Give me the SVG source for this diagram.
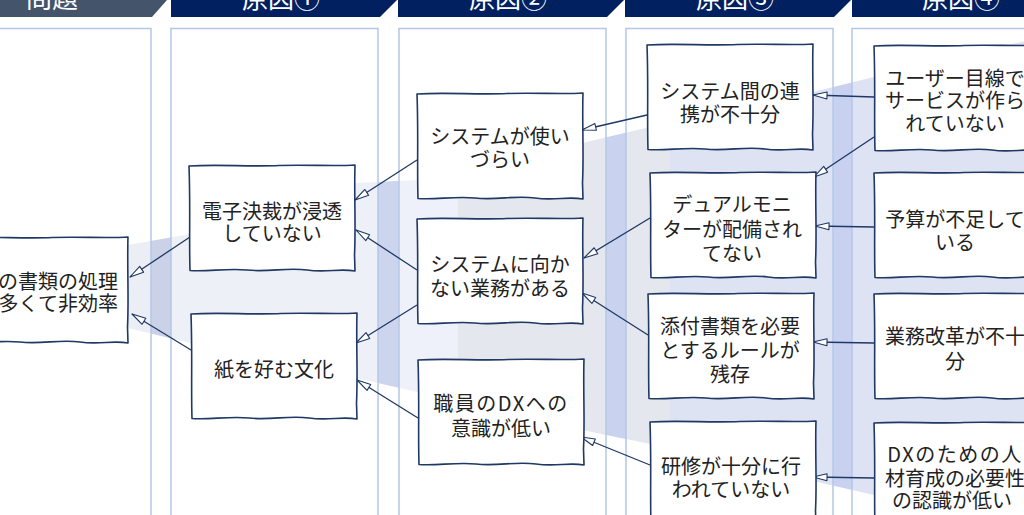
<svg xmlns="http://www.w3.org/2000/svg" width="1024" height="515" viewBox="0 0 1024 515">
<defs>
<style>
.panel{fill:none;stroke:#b4c7e7;stroke-width:1.5}
.hdr{fill:#002060}
.hdr0{fill:#44546a}
.ht{font-family:"Noto Sans CJK JP","Noto Sans",sans-serif;font-size:26px;fill:#fff;text-anchor:middle}
.box{fill:#fff;stroke:#1f3864;stroke-width:1.6;stroke-linejoin:round}
.t{font-family:"Noto Sans CJK JP","Noto Sans",sans-serif;font-size:20px;fill:#222;text-anchor:middle;dominant-baseline:central}
.dx{letter-spacing:1.5px}
.c{fill:none;stroke:#1f3864;stroke-width:1.3;marker-end:url(#arr)}
</style>
<clipPath id="sil"><polygon points="100,245 128,245 190,234 356,183 417,180 582,143 650,127 813,92 874,77 1030,40 1030,530 874,495 813,481 650,444 582,430 417,392 356,378 190,343 128,328 100,328"/></clipPath>
<marker id="arr" viewBox="-1 -1 16 10" refX="14" refY="4" markerWidth="16" markerHeight="10" orient="auto" markerUnits="userSpaceOnUse"><path d="M14,4 L0,0.5 L0,7.5 Z" fill="#fff" stroke="#1f3864" stroke-width="1.1" stroke-linejoin="round"/></marker>
<path id="bx" d="M0,1 C30,-1 60,2 90,0.5 C120,-0.5 145,1.5 166,0 C165,30 167,60 165.5,90 L166,106 C150,103 138,108 118,105 C98,102 80,107.5 58,105 C38,103 18,107 1,105.5 C0,75 1.5,40 0,1 Z"/>
</defs>
<rect width="1024" height="515" fill="#fff"/>
<g id="shading" clip-path="url(#sil)">
<rect x="0" y="0" width="151" height="515" fill="#eceef5"/>
<rect x="151" y="0" width="20" height="515" fill="#cbd2e8"/>
<rect x="171" y="0" width="207" height="515" fill="#eef0f7"/>
<rect x="378" y="0" width="21" height="515" fill="#cdd5ee"/>
<rect x="399" y="0" width="59" height="515" fill="#eef1fa"/>
<rect x="458" y="0" width="148" height="515" fill="#e5e7ee"/>
<rect x="606" y="0" width="20" height="515" fill="#c9d3ef"/>
<rect x="626" y="0" width="44" height="515" fill="#e5e7ee"/>
<rect x="670" y="0" width="163" height="515" fill="#dee3f3"/>
<rect x="833" y="0" width="19" height="515" fill="#c8d2f0"/>
<rect x="852" y="0" width="200" height="515" fill="#dee3f3"/>
</g>
<g id="panels">
<rect class="panel" x="-56" y="28.5" width="207" height="500"/>
<rect class="panel" x="171" y="28.5" width="207" height="500"/>
<rect class="panel" x="399" y="28.5" width="207" height="500"/>
<rect class="panel" x="626" y="28.5" width="207" height="500"/>
<rect class="panel" x="852" y="28.5" width="207" height="500"/>
</g>
<g id="headers">
<polygon class="hdr0" points="-60,-2 167,-2 167,0 152,17 -60,17"/>
<text class="ht" x="52" y="8">問題</text>
<polygon class="hdr" points="171,-2 397,-2 397,0 380,17 171,17"/>
<text class="ht" x="281" y="8">原因①</text>
<polygon class="hdr" points="398,-2 624,-2 624,0 607,17 398,17"/>
<text class="ht" x="508" y="8">原因②</text>
<polygon class="hdr" points="625,-2 851,-2 851,0 834,17 625,17"/>
<text class="ht" x="735" y="8">原因③</text>
<polygon class="hdr" points="852,-2 1080,-2 1080,17 852,17"/>
<text class="ht" x="961" y="8">原因④</text>
</g>
<g id="connectors">
<line class="c" x1="190" y1="237" x2="130" y2="277"/>
<line class="c" x1="191" y1="350" x2="132" y2="314"/>
<line class="c" x1="417" y1="160" x2="355" y2="200"/>
<line class="c" x1="417" y1="270" x2="356" y2="230"/>
<line class="c" x1="417" y1="305" x2="356" y2="343"/>
<line class="c" x1="418" y1="418" x2="357" y2="380"/>
<line class="c" x1="647" y1="115" x2="582" y2="130"/>
<line class="c" x1="650" y1="218" x2="584" y2="258"/>
<line class="c" x1="648" y1="335" x2="582" y2="293"/>
<line class="c" x1="650" y1="465" x2="581" y2="437"/>
<line class="c" x1="874" y1="97" x2="813" y2="95"/>
<line class="c" x1="874" y1="137" x2="814" y2="177"/>
<line class="c" x1="874" y1="227" x2="815" y2="226"/>
<line class="c" x1="874" y1="343" x2="813" y2="342"/>
<line class="c" x1="874" y1="478" x2="813" y2="477"/>
</g>
<g id="n1"><use href="#bx" class="box" transform="translate(-38,237)"/><text class="t" style="text-anchor:end" x="118" y="280">の書類の処理</text><text class="t" style="text-anchor:end" x="118" y="302">多くて非効率</text></g>
<g id="n2"><use href="#bx" class="box" transform="translate(189,165)"/><text class="t" x="272" y="210">電子決裁が浸透</text><text class="t" x="272" y="232">していない</text></g>
<g id="n3"><use href="#bx" class="box" transform="translate(191,313)"/><text class="t" x="274" y="368">紙を好む文化</text></g>
<g id="n4"><use href="#bx" class="box" transform="translate(417,93)"/><text class="t" x="500" y="135">システムが使い</text><text class="t" x="500" y="158">づらい</text></g>
<g id="n5"><use href="#bx" class="box" transform="translate(417,218)"/><text class="t" x="500" y="263">システムに向か</text><text class="t" x="500" y="287">ない業務がある</text></g>
<g id="n6"><use href="#bx" class="box" transform="translate(418,359)"/><text class="t dx" x="501" y="402">職員のDXへの</text><text class="t" x="501" y="427">意識が低い</text></g>
<g id="n7"><use href="#bx" class="box" transform="translate(647,44)"/><text class="t" x="730" y="90">システム間の連</text><text class="t" x="730" y="113">携が不十分</text></g>
<g id="n8"><use href="#bx" class="box" transform="translate(650,172)"/><text class="t" x="732" y="203">デュアルモニ</text><text class="t" x="732" y="228">ターが配備され</text><text class="t" x="732" y="252">てない</text></g>
<g id="n9"><use href="#bx" class="box" transform="translate(648,293)"/><text class="t" x="730" y="325">添付書類を必要</text><text class="t" x="730" y="349">とするルールが</text><text class="t" x="730" y="373">残存</text></g>
<g id="n10"><use href="#bx" class="box" transform="translate(650,421)"/><text class="t" x="731" y="465">研修が十分に行</text><text class="t" x="731" y="488">われていない</text></g>
<g id="n11"><use href="#bx" class="box" transform="translate(874,45)"/><text class="t" x="955" y="77">ユーザー目線で</text><text class="t" x="955" y="99">サービスが作ら</text><text class="t" x="955" y="122">れていない</text></g>
<g id="n12"><use href="#bx" class="box" transform="translate(874,172)"/><text class="t" x="955" y="218">予算が不足して</text><text class="t" x="955" y="241">いる</text></g>
<g id="n13"><use href="#bx" class="box" transform="translate(874,293)"/><text class="t" x="955" y="335">業務改革が不十</text><text class="t" x="955" y="360">分</text></g>
<g id="n14"><use href="#bx" class="box" transform="translate(874,422)"/><text class="t dx" x="955" y="453">DXのための人</text><text class="t" x="955" y="477">材育成の必要性</text><text class="t" x="952" y="499">の認識が低い</text></g>
</svg>
